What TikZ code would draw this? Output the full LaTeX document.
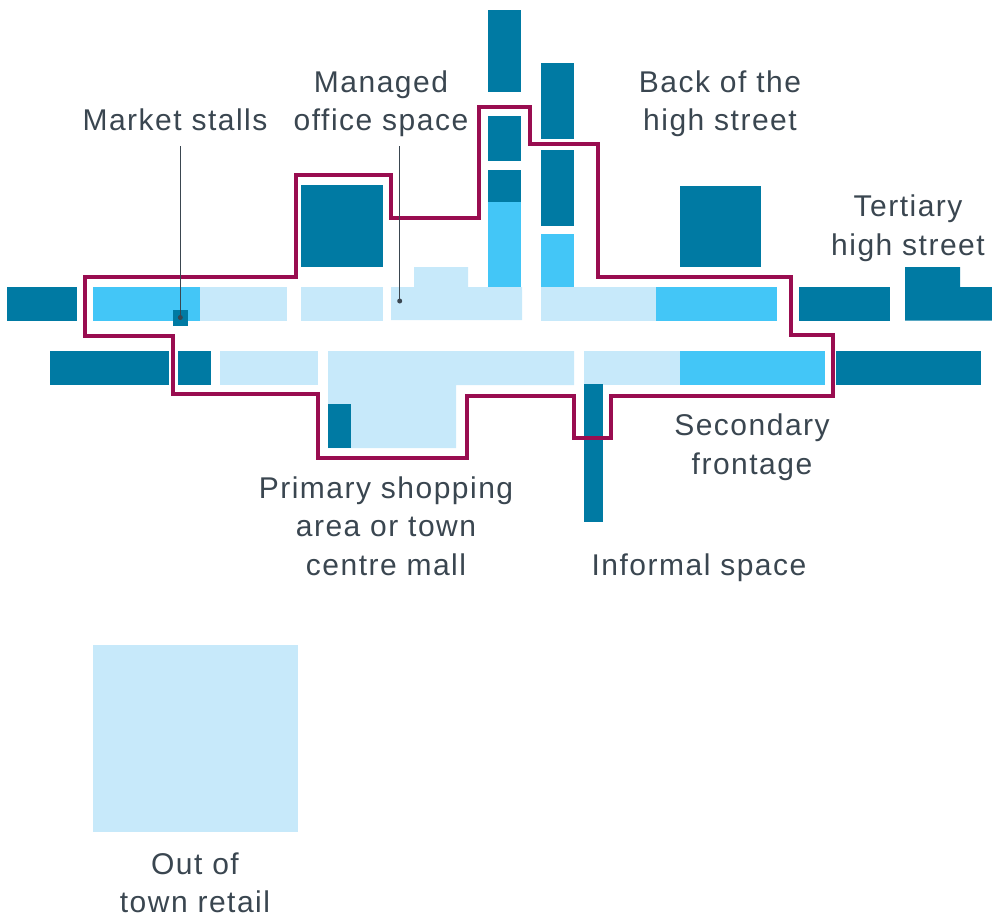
\documentclass[tikz,border=0pt]{standalone}
\usepackage{fontspec}
\setmainfont[LetterSpace=5]{Liberation Sans}
\definecolor{dk}{HTML}{007AA3}
\definecolor{md}{HTML}{43C6F7}
\definecolor{lt}{HTML}{C7E9FA}
\definecolor{pu}{HTML}{990D50}
\definecolor{tx}{HTML}{3A4650}
\tikzset{
  lbl/.style={text=tx,font=\fontsize{30}{38.5}\selectfont,align=center,inner sep=0pt,anchor=base},
  boundary/.style={draw=pu,line width=4pt,miter limit=10},
  leader/.style={draw=tx,line width=1.3pt},
  pin/.style={fill=tx},
}
\begin{document}
\begin{tikzpicture}[x=1pt,y=-1pt]
\useasboundingbox (0,0) rectangle (992,915);
% light areas
\fill[lt] (200,287) rectangle (287,321);
\fill[lt] (301,287) rectangle (383,321);
\fill[lt] (391,287) -- (414,287) -- (414,267) -- (468,267) -- (468,287) -- (522,287) -- (522,320) -- (391,320) -- cycle;
\fill[lt] (541,287) rectangle (656,321);
\fill[lt] (220,351) rectangle (318,385);
\fill[lt] (328,351) -- (574,351) -- (574,385) -- (456,385) -- (456,448) -- (328,448) -- cycle;
\fill[lt] (584,351) rectangle (680,385);
\fill[lt] (93,645) rectangle (298,832);
% mid areas
\fill[md] (93,287) rectangle (200,321);
\fill[md] (656,287) rectangle (777,321);
\fill[md] (680,351) rectangle (825,385);
\fill[md] (488,202) rectangle (521,287);
\fill[md] (541,234) rectangle (574,287);
% dark areas
\fill[dk] (7,287) rectangle (77,321);
\fill[dk] (50,351) rectangle (169,385);
\fill[dk] (178,351) rectangle (211,385);
\fill[dk] (173,310) rectangle (188,326);
\fill[dk] (301,185) rectangle (383,267);
\fill[dk] (328,404) rectangle (351,448);
\fill[dk] (488,10) rectangle (521,92);
\fill[dk] (488,116) rectangle (521,161);
\fill[dk] (488,170) rectangle (521,202);
\fill[dk] (541,63) rectangle (574,139);
\fill[dk] (541,150) rectangle (574,226);
\fill[dk] (680,186) rectangle (761,267);
\fill[dk] (799,287) rectangle (890,321);
\fill[dk] (905,267) -- (960,267) -- (960,287) -- (992,287) -- (992,320.5) -- (905,320.5) -- cycle;
\fill[dk] (836,351) rectangle (981,385);
\fill[dk] (584,384) rectangle (603,522);
% boundary
\path[boundary] (84.5,277) -- (295.5,277) -- (295.5,175) -- (391,175) -- (391,217.5) -- (478.5,217.5)
  -- (478.5,107) -- (530,107) -- (530,144) -- (598,144) -- (598,277) -- (790.5,277) -- (790.5,335)
  -- (832.5,335) -- (832.5,395.5) -- (611,395.5) -- (611,438) -- (574,438) -- (574,395.5) -- (467,395.5)
  -- (467,458) -- (318,458) -- (318,394) -- (173,394) -- (173,335.5) -- (84.5,335.5) -- cycle;
% labels
\node[lbl] (market) at (175,131) {Market stalls};
\node[lbl] (office) at (381,131) {Managed\\office space};
\node[lbl] (back) at (720,131) {Back of the\\high street};
\node[lbl] (tertiary) at (908,255) {Tertiary\\high street};
\node[lbl] (secondary) at (752,474) {Secondary\\frontage};
\node[lbl] (primary) at (386,575) {Primary shopping\\area or town\\centre mall};
\node[lbl] (informal) at (699,575) {Informal space};
\node[lbl] (outof) at (195,912.5) {Out of\\town retail};
% leaders
\coordinate (marketend) at (180.3,146);
\coordinate (officeend) at (399.7,146);
\coordinate (marketdot) at (180.3,317.5);
\coordinate (officedot) at (399.7,301);
\draw[leader] (marketend) -- (marketdot);
\draw[leader] (officeend) -- (officedot);
\fill[pin] (marketdot) circle (2.5);
\fill[pin] (officedot) circle (2.5);
\end{tikzpicture}
\end{document}
